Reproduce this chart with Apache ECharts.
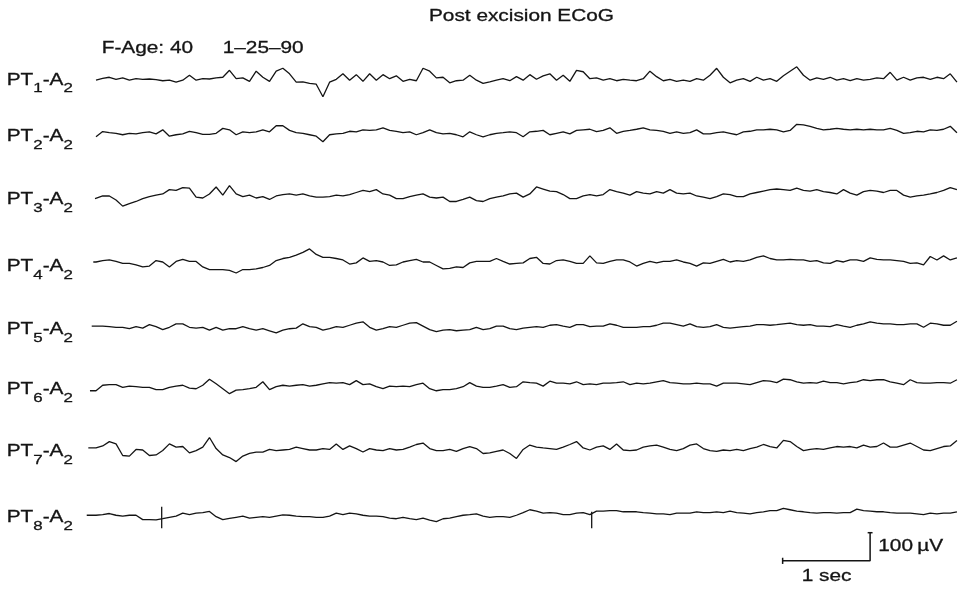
<!DOCTYPE html>
<html>
<head>
<meta charset="utf-8">
<script src="https://cdn.jsdelivr.net/npm/echarts@6/dist/echarts.min.js"></script>
<style>
html,body{margin:0;padding:0;background:#ffffff;}
#chart{width:962px;height:589px;}
</style>
</head>
<body>
<div id="chart"></div>
<script>
// ---------------- DATA ----------------
const titleText = 'Post excision ECoG';
const infoTexts = ['F-Age: 40', '1\u201325\u201390'];
const channelNumbers = [1, 2, 3, 4, 5, 6, 7, 8];   // PTn-A2
const referenceNumber = 2;
const samplePeriod = 0.0763;                        // seconds between samples
// time (s) at which each trace begins (lower traces start slightly earlier)
const traceOnset = [0, 0, -0.011, -0.031, -0.049, -0.069, -0.088, -0.106];

// amplitudes in microvolts, positive = up
const pt1 = [-4,2,6,-1,4,-4,1,-1,0,-2, -6,-4,-11,-4,13,-4,1,0,4,6, 30,1,4,-8,27,6,-8,27,37,18,
  -11,-10,-15,-18,-61,-11,-1,18,-4,15, -8,18,-4,15,1,11,-8,-1,-6,37, 27,4,6,-13,-6,-4,13,-4,
  -15,-10,-4,1,-6,8,-4,15,-1,11, 18,-4,13,-8,30,25,1,4,-4,1, -6,-1,-4,-6,1,27,8,-6,-1,-8,
  -4,-8,1,-4,13,37,6,-13,-4,1, -8,6,-4,1,-8,11,27,42,13,-4, 4,-1,6,-4,1,-6,1,-4,-1,4,
  1,23,-4,6,-4,4,6,-1,6,1, 18,-11];
const pt2 = [-12,6,2,0,-5,0,-2,2,5,-2, 12,-10,-5,-2,7,2,-4,-4,0,17, 12,-5,5,2,5,12,5,26,26,10,
  2,0,-5,-10,-29,-5,-2,0,7,5, 12,10,12,19,10,7,2,5,-5,2, 12,2,-2,0,-5,-12,5,-5,
  -12,-5,0,2,5,2,-12,5,7,10, -5,0,5,-2,10,12,14,6,10,19, 0,7,10,14,19,12,10,7,0,5,
  0,2,12,-2,-2,2,5,0,-5,5, 7,12,12,14,12,5,10,31,29,24, 17,12,14,17,14,12,14,12,14,12,
  12,17,10,0,2,7,5,12,10,14, 24,2];
const pt3 = [-1,8,8,-6,-27,-18,-11,-1,6,11, 15,30,27,37,35,4,1,15,39,11, 44,15,6,11,1,6,-4,8,13,15,
  11,15,8,4,4,6,11,8,13,20, 27,23,30,15,11,-1,-1,6,11,15, 4,1,4,-11,-11,-4,4,-8,
  -11,-1,4,8,15,18,4,15,39,32, 25,23,13,-1,-1,8,13,8,13,30, 23,18,11,23,18,15,23,18,30,18,
  15,18,8,4,-1,6,15,13,6,6, 15,20,25,30,32,30,27,35,27,25, 30,23,20,15,30,18,11,23,27,25,
  20,27,27,11,4,8,11,15,20,27, 37,30];
const pt4 = [-1,4,6,1,-6,-6,-11,-18,-15,4, -1,-18,1,8,1,1,-18,-27,-27,-27, -30,-39,-27,-27,-25,-20,-13,4,11,15,
  23,32,44,25,15,15,11,6,-8,-4, 13,1,4,-1,-13,-11,-1,4,8,-1, -1,-13,-25,-23,-18,-20,-4,1,
  1,1,11,1,-8,-6,-4,11,15,-6, -8,4,6,1,-6,-6,20,-4,-6,1, 6,6,-1,-15,-6,1,-4,1,1,6,
  -1,-6,-15,-4,-6,1,8,-1,4,1, 6,15,20,11,6,6,8,6,6,1, 4,-4,-6,4,-1,6,6,1,13,8,
  6,6,4,1,-6,-4,-11,18,6,20, 6,13];
const pt5 = [2,2,0,-2,-2,-7,0,-5,7,0, -10,-2,10,10,-2,-5,-2,-12,-2,-12, -7,-7,0,-7,-12,-7,-14,-21,-12,-7,
  -5,10,0,-2,-12,-7,0,-2,5,12, 17,-2,-12,-7,0,-2,5,12,14,2, -10,-17,-12,-10,-14,-12,-10,-2,
  -10,-7,2,2,-7,-10,-5,-2,0,-2, 5,7,2,-2,7,7,0,2,2,10, 5,-2,-2,-2,0,0,5,12,12,7,
  2,10,0,-2,0,7,-2,-5,-2,0, 2,7,7,5,7,10,12,7,5,7, 2,2,0,7,2,-2,5,10,17,12,
  10,10,7,7,10,10,-2,12,10,5, 5,19];
const pt6 = [-14,5,7,7,-2,2,0,-2,-2,-10, -10,-2,2,5,-5,-7,5,26,10,-7, -24,-12,-10,-7,-2,17,-10,0,5,2,
  5,7,2,5,10,14,12,14,7,21, 7,10,0,-7,2,0,2,0,7,12, -7,-14,-10,-10,-7,0,14,2,
  -2,-2,2,7,-2,0,17,14,12,2, 19,12,12,10,17,7,10,7,12,12, 14,17,7,12,10,12,17,21,14,12,
  10,10,12,10,10,2,12,12,12,10, 7,14,21,19,14,26,24,17,12,14, 12,19,14,14,10,14,17,24,21,24,
  24,17,12,7,24,14,12,12,14,14, 12,24];
const pt7 = [7,14,29,21,-19,-21,2,0,-19,-17, -2,21,10,12,-10,-2,10,43,5,-17, -26,-40,-21,-12,-7,-7,2,-2,0,2,
  10,5,0,0,5,2,21,2,14,5, -7,5,0,-2,5,0,2,10,19,24, 5,-2,-2,2,-5,5,12,5,
  -12,-10,-5,0,-12,-29,2,17,10,7, 5,2,10,19,29,7,0,10,14,2, 21,0,-2,0,10,14,17,10,2,-2,
  5,17,21,5,-2,-5,0,-2,2,-2, 5,10,19,12,7,33,29,12,-2,2, 5,2,7,12,10,12,7,17,10,12,
  24,10,10,17,24,12,0,-2,5,12, 14,33];
const pt8 = [5,7,11,5,2,5,5,-10,-10,-11, -7,-2,2,12,7,12,14,18,0,-10, -6,-2,2,-5,-2,0,-2,2,6,5,
  2,0,0,-2,-2,2,12,7,12,10, 5,2,2,0,-5,-7,-2,-7,-10,-5, -12,-17,-7,-5,0,5,7,10,
  2,-2,0,0,-2,5,14,24,19,12, 14,12,7,7,12,14,7,19,19,21, 21,17,17,17,14,12,10,10,7,12,
  12,12,17,14,14,17,14,19,14,12, 10,14,17,21,21,29,24,19,17,14, 12,14,14,12,14,14,26,21,19,17,
  17,14,12,12,12,10,7,12,10,12, 12,17];
const channelValues = [pt1, pt2, pt3, pt4, pt5, pt6, pt7, pt8];

// artefact ticks on PT8
const spikeTimes = [0.751, 5.667];
const spikeTop = [34, 17];
const spikeBottom = [-40, -40];

// calibration bar
const scaleBarStart = 7.85;     // s
const scaleBarDuration = 1;     // s
const scaleBarAmplitude = 100;  // uV
const scaleLabels = ['100\u2009\u00b5V', '1 sec'];

// ---------------- LAYOUT ----------------
const FONT = '"Liberation Sans", Arial, Helvetica, sans-serif';
const INK = '#141414';
const STRETCH = 1.3;
const PX_PER_SEC = 87.47;
const PX_PER_100UV = 29;
const X_AT_ZERO = 96;
const XMIN = -0.12, XMAX = 9.85, YMIN = -100, YMAX = 100;
const baselines = [79, 133.3, 198.3, 261.7, 326.7, 386.7, 450, 516.7, 561.7]; // last = scale bar
const labelY = [80.5, 137, 200, 267, 330, 390, 452, 518];

const gridLeft = X_AT_ZERO + XMIN * PX_PER_SEC;
const gridWidth = (XMAX - XMIN) * PX_PER_SEC;
const gridHeight = (YMAX - YMIN) / 100 * PX_PER_100UV;

const grids = [], xAxes = [], yAxes = [], series = [];
baselines.forEach((b, k) => {
  grids.push({left: gridLeft, width: gridWidth, top: b - YMAX / 100 * PX_PER_100UV, height: gridHeight, containLabel: false, show: false});
  xAxes.push({type: 'value', gridIndex: k, min: XMIN, max: XMAX, show: false});
  yAxes.push({type: 'value', gridIndex: k, min: YMIN, max: YMAX, show: false});
});

const traceStyle = {color: INK, width: 1.3};
channelValues.forEach((vals, c) => {
  const data = [[traceOnset[c], vals[0]]].concat(vals.map((v, i) => [i * samplePeriod, v]));
  series.push({type: 'line', xAxisIndex: c, yAxisIndex: c, data, showSymbol: false, symbol: 'none',
    lineStyle: traceStyle, silent: true, clip: false, animation: false});
});
spikeTimes.forEach((t, k) => {
  series.push({type: 'line', xAxisIndex: 7, yAxisIndex: 7, data: [[t, spikeTop[k]], [t, spikeBottom[k]]],
    symbol: 'none', lineStyle: traceStyle, silent: true, clip: false, animation: false});
});
// calibration bar
const barStyle = {color: INK, width: 1.5};
const sEnd = scaleBarStart + scaleBarDuration;
[
  [[scaleBarStart, 0], [sEnd, 0], [sEnd, scaleBarAmplitude]],
  [[scaleBarStart, -11], [scaleBarStart, 11]],
  [[sEnd - 0.028, scaleBarAmplitude], [sEnd + 0.028, scaleBarAmplitude]]
].forEach(d => series.push({type: 'line', xAxisIndex: 8, yAxisIndex: 8, data: d, symbol: 'none',
  lineStyle: barStyle, silent: true, clip: false, animation: false}));

// ---------------- TEXT ----------------
const mctx = document.createElement('canvas').getContext('2d');
function textWidth(s, size) { mctx.font = size + 'px ' + FONT; return mctx.measureText(s).width; }
function txt(s, x, y, size) {
  return {type: 'text', x: x, y: y, scaleX: STRETCH, silent: true,
    style: {text: s, x: 0, y: 0, fontSize: size, fontFamily: FONT, fill: INK,
      stroke: INK, lineWidth: 0.3, align: 'left', verticalAlign: 'middle'}};
}
const graphics = [];
graphics.push(txt(titleText, 429, 16.5, 16));
graphics.push(txt(infoTexts[0], 101.7, 49, 16));
graphics.push(txt(infoTexts[1], 222.7, 49, 16));
graphics.push(txt(scaleLabels[0], 878.3, 546.7, 16));
graphics.push(txt(scaleLabels[1], 801.7, 576.5, 16));
const SUB = 13, SUB_DY = 8;
channelNumbers.forEach((n, c) => {
  const parts = [['PT', 16, 0], [String(n), SUB, SUB_DY], ['-A', 16, 0], [String(referenceNumber), SUB, SUB_DY]];
  let x = 6.7;
  parts.forEach(p => {
    graphics.push(txt(p[0], x, labelY[c] + p[2], p[1]));
    x += textWidth(p[0], p[1]) * STRETCH;
  });
});

const chart = echarts.init(document.getElementById('chart'), null, {renderer: 'canvas'});
chart.setOption({
  animation: false,
  backgroundColor: '#ffffff',
  grid: grids, xAxis: xAxes, yAxis: yAxes, series: series,
  graphic: graphics
});
</script>
</body>
</html>
